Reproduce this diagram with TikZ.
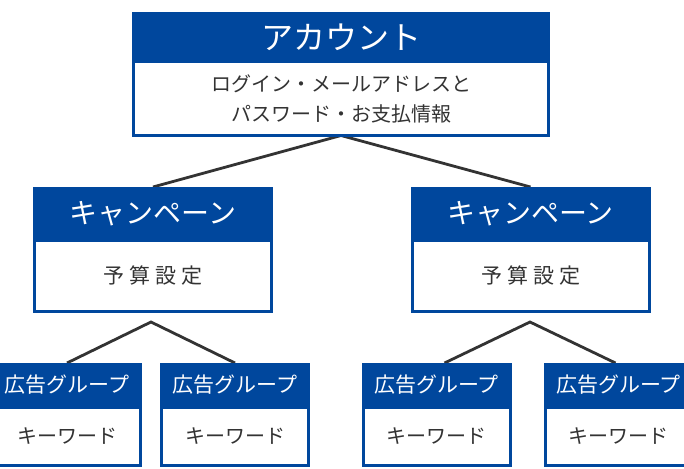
\documentclass[tikz,border=0pt]{standalone}
\usepackage{fontspec}
\setmainfont{Noto Sans CJK JP}
\usetikzlibrary{positioning,backgrounds}
\definecolor{acblue}{RGB}{0,71,157}
\definecolor{textgray}{RGB}{51,51,51}

\begin{document}
\begin{tikzpicture}
  [x=1pt,y=-1pt,
   hdr/.style={fill=acblue,text=white,inner sep=0pt,outer sep=0pt},
   bdy/.style={draw=acblue,line width=3pt,fill=white,text=textgray,inner sep=0pt,outer sep=0pt,align=center},
   link/.style={draw=textgray,line width=2.8pt}]
  \useasboundingbox (0,0) rectangle (684,468);

  % account
  \node[hdr,minimum width=418pt,minimum height=50pt,font=\fontsize{32}{36}\selectfont] (acc) at (341,37) {アカウント};
  \node[bdy,below=0pt of acc,minimum width=415pt,minimum height=73.5pt,font=\fontsize{20}{30}\selectfont] (acc-b) {ログイン・メールアドレスと\\パスワード・お支払情報};

  % campaigns
  \node[hdr,minimum width=240pt,minimum height=53pt,font=\fontsize{28}{32}\selectfont] (camp1) at (153,213.5) {キャンペーン};
  \node[bdy,below=0pt of camp1,minimum width=237pt,minimum height=71.5pt,font=\fontsize{21}{24}\selectfont] (camp1-b) {予\hspace{5pt}算\hspace{5pt}設\hspace{5pt}定};
  \node[hdr,minimum width=240pt,minimum height=53pt,font=\fontsize{28}{32}\selectfont] (camp2) at (530.5,213.5) {キャンペーン};
  \node[bdy,below=0pt of camp2,minimum width=237pt,minimum height=71.5pt,font=\fontsize{21}{24}\selectfont] (camp2-b) {予\hspace{5pt}算\hspace{5pt}設\hspace{5pt}定};

  % ad groups
  \foreach \n/\x in {1/67,2/235,3/436.5,4/618.5}{
    \node[hdr,minimum width=150pt,minimum height=44pt,font=\fontsize{21}{24}\selectfont] (ad\n) at (\x,385) {広告グループ};
    \node[bdy,below=0pt of ad\n,minimum width=147pt,minimum height=58.5pt,font=\fontsize{20}{24}\selectfont] (ad\n-b) {キーワード};
  }

  \coordinate (fork1) at (151,322);
  \coordinate (fork2) at (530,322);

  \begin{scope}[on background layer]
    \draw[link] (camp1.north) -- (acc-b.south) -- (camp2.north);
    \draw[link] (ad1.north) -- (fork1) -- (ad2.north);
    \draw[link] ([xshift=8pt]ad3.north) -- (fork2) -- ([xshift=-3pt]ad4.north);
  \end{scope}
\end{tikzpicture}
\end{document}
